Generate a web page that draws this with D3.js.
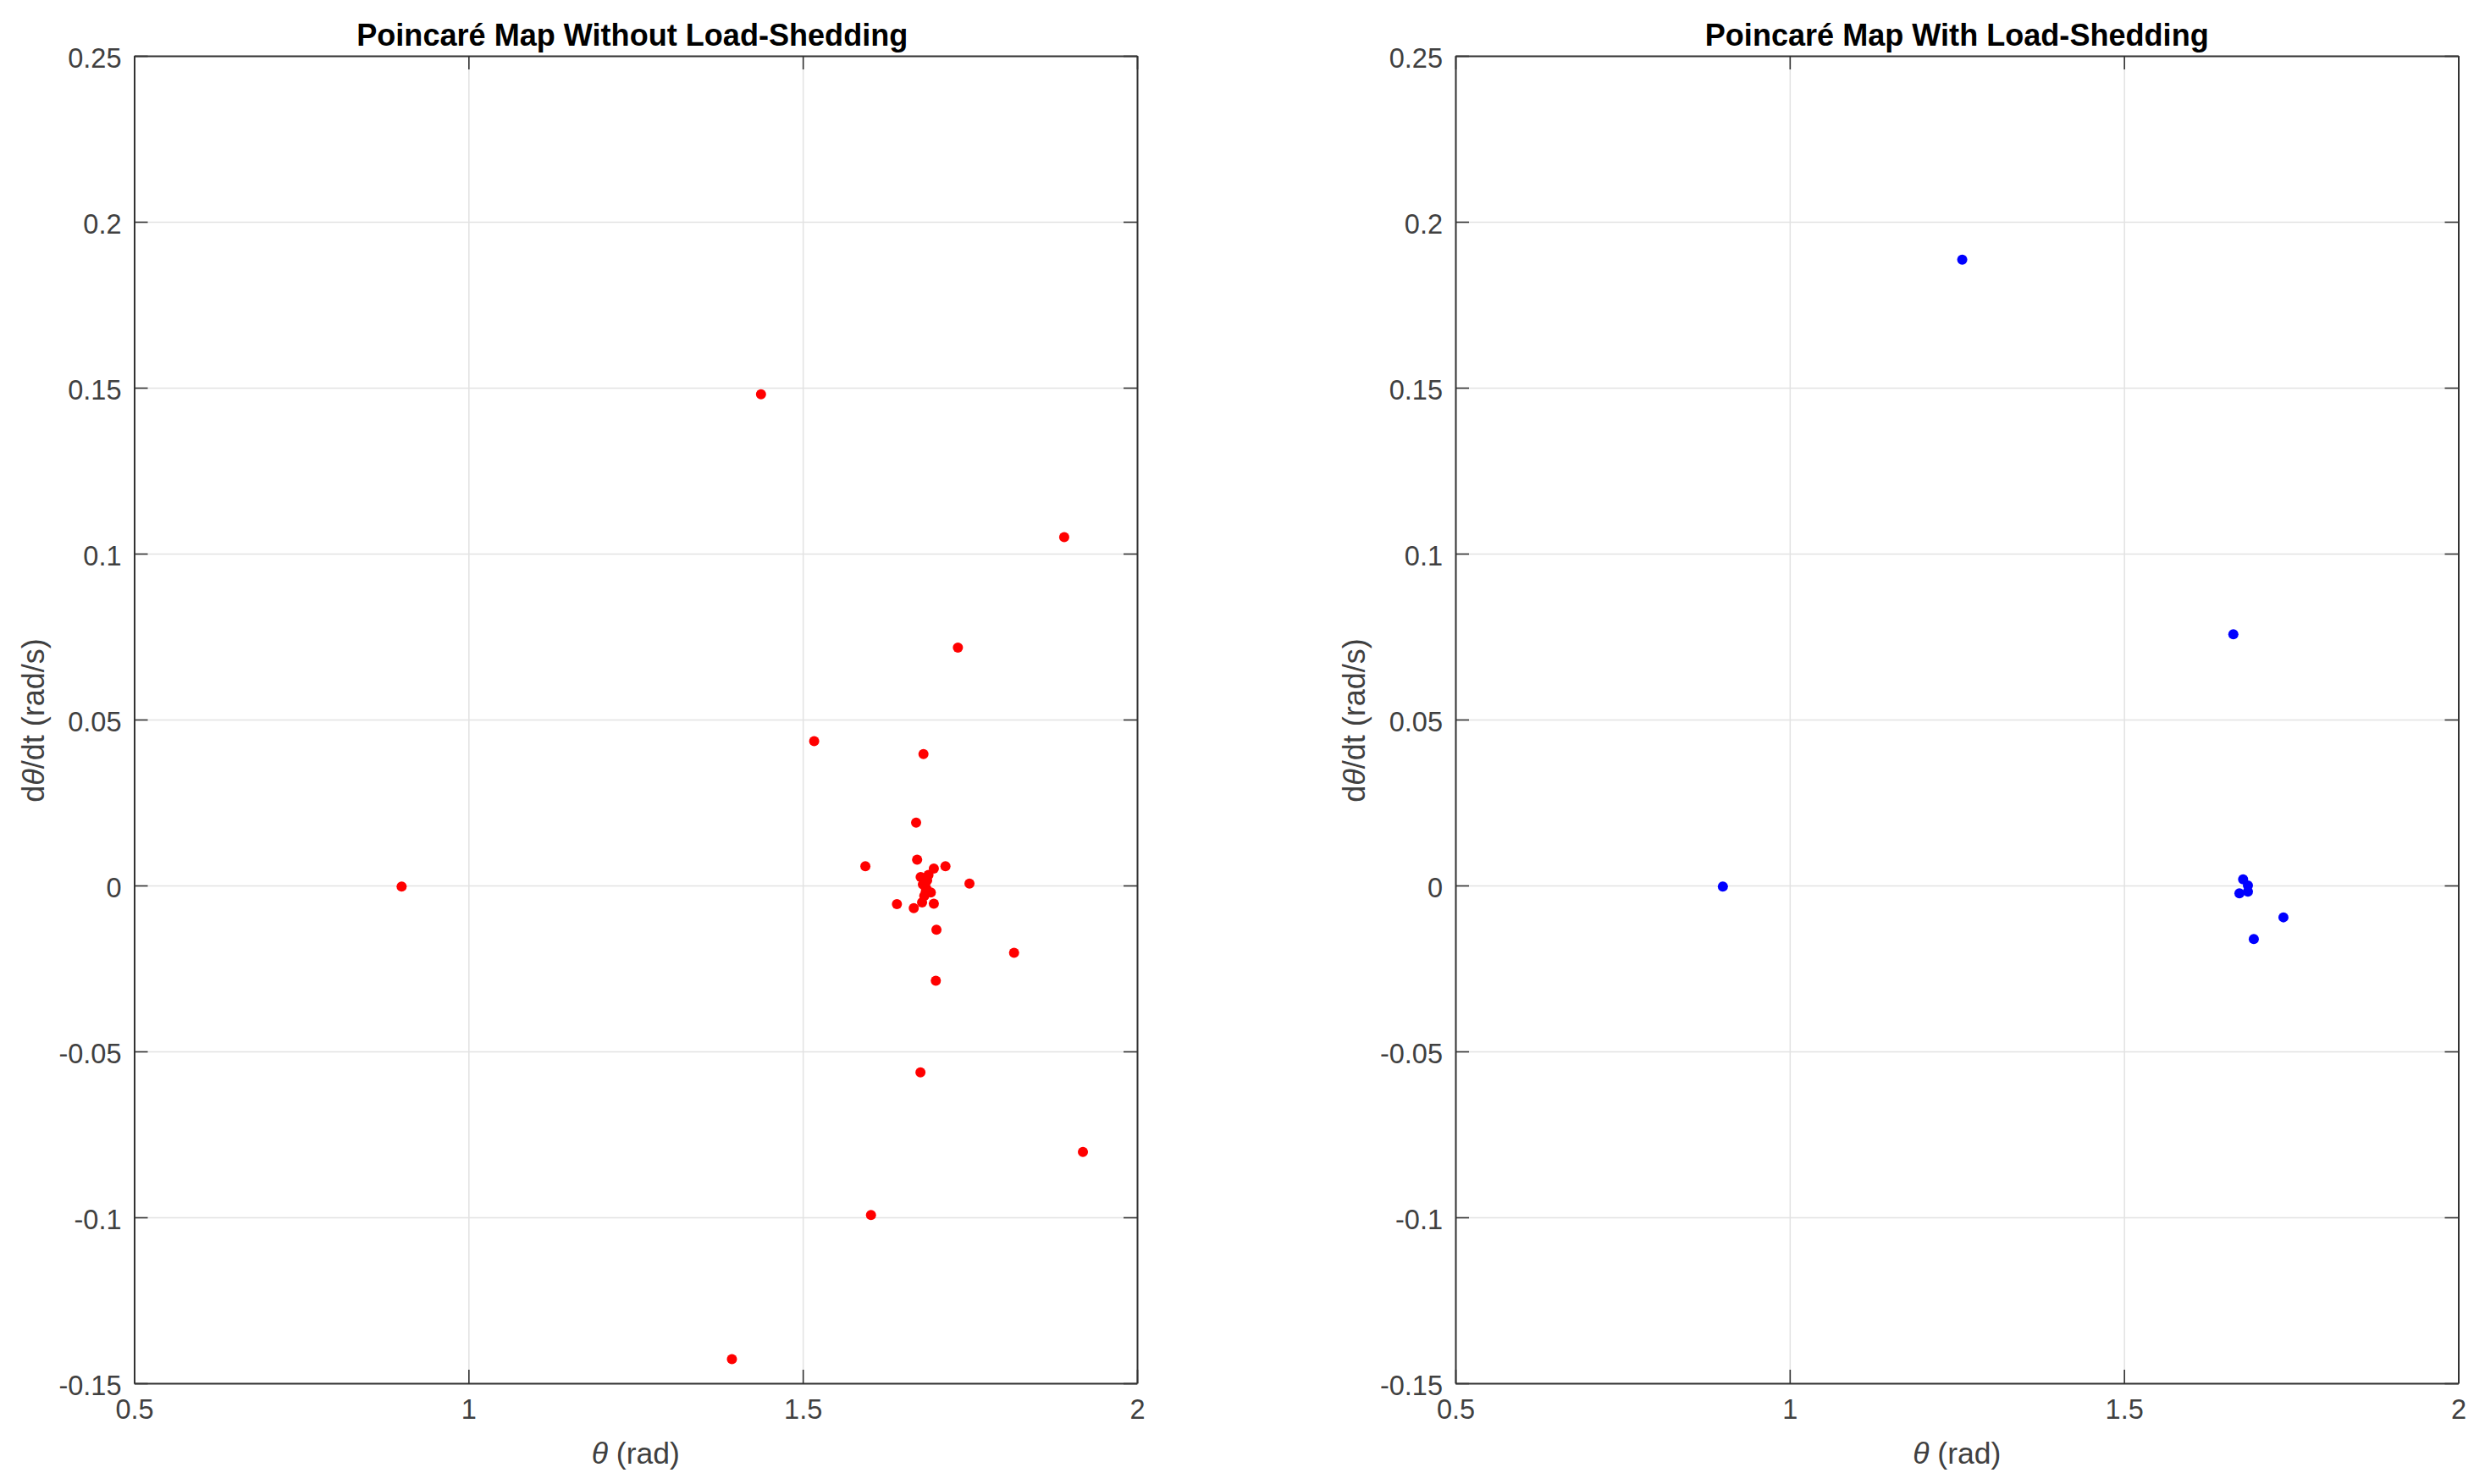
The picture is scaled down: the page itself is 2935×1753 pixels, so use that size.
<!DOCTYPE html>
<html><head><meta charset="utf-8">
<script src="https://d3js.org/d3.v7.min.js"></script>
<style>html,body{margin:0;padding:0;background:#fff}svg{display:block}text{font-family:"Liberation Sans",Arial,sans-serif}</style>
</head><body><svg id="c" width="2935" height="1753"></svg>
<script>
const xTicks=[0.5,1,1.5,2];
const yTicks=[-0.15,-0.1,-0.05,0,0.05,0.1,0.15,0.2,0.25];
const titles=["Poincaré Map Without Load-Shedding","Poincaré Map With Load-Shedding"];
const colors=["#ff0000","#0000ff"];
const thetaNoShed=[0.9,1.4375,1.891,1.732,1.517,1.6805,1.6695,1.671,1.5936,1.7134,1.696,1.7493,1.6408,1.666,1.696,1.6999,1.6784,1.816,1.699,1.676,1.919,1.602,1.394,1.6763,1.688,1.6817,1.6796,1.6839,1.686,1.6915,1.6817,1.6839,1.686];
const rateNoShed=[-0.0003,0.148,0.105,0.0717,0.0435,0.0396,0.01896,0.0078,0.0058,0.0058,0.0051,0.0006,-0.0056,-0.0068,-0.0055,-0.01335,-0.0051,-0.0203,-0.0287,-0.0563,-0.0803,-0.0993,-0.1427,0.00255,0.0032,0.0011,0.0003,-0.0006,-0.0014,-0.0021,-0.0031,-0.0019,0.0015];
const thetaShed=[0.9,1.258,1.6635,1.6781,1.6853,1.6853,1.6726,1.7384,1.6941];
const rateShed=[-0.0003,0.1886,0.0757,0.00187,0,-0.00187,-0.00238,-0.0096,-0.01616];
const panels=[{left:158.5,titleShift:-4,t:thetaNoShed,r:rateNoShed},{left:1719,titleShift:0,t:thetaShed,r:rateShed}];
const plotTop=66,plotBottom=1634,plotWidth=1184.5;
const svg=d3.select("#c");
const ink="#404040";
panels.forEach((p,i)=>{
  const x=d3.scaleLinear().domain([0.5,2]).range([p.left,p.left+plotWidth]);
  const y=d3.scaleLinear().domain([-0.15,0.25]).range([plotBottom,plotTop]);
  const g=svg.append("g");
  // grid
  g.append("g").attr("transform",`translate(0,${plotBottom})`)
    .call(d3.axisBottom(x).tickValues(xTicks).tickSize(-(plotBottom-plotTop)).tickFormat(""))
    .call(s=>{s.select(".domain").remove();s.selectAll("line").attr("stroke","#e2e2e2").attr("stroke-width",1.5)});
  g.append("g").attr("transform",`translate(${p.left},0)`)
    .call(d3.axisLeft(y).tickValues(yTicks).tickSize(-plotWidth).tickFormat(""))
    .call(s=>{s.select(".domain").remove();s.selectAll("line").attr("stroke","#e2e2e2").attr("stroke-width",1.5)});
  // points
  g.append("g").selectAll("circle").data(p.t.map((d,j)=>[d,p.r[j]])).join("circle")
    .attr("cx",d=>x(d[0])).attr("cy",d=>y(d[1])).attr("r",6).attr("fill",colors[i]);
  // axes: all four sides carry inward ticks
  const style=s=>{s.select(".domain").attr("stroke","#333").attr("stroke-width",2);s.selectAll("line").attr("stroke","#333").attr("stroke-width",1.6);s.selectAll("text").attr("fill",ink).attr("font-size",32.5);};
  const fmt=d=>d3.format("~g")(d).replace("−","-");
  g.append("g").attr("transform",`translate(0,${plotBottom})`)
    .call(d3.axisBottom(x).tickValues(xTicks).tickSizeInner(-16).tickSizeOuter(0).tickPadding(19).tickFormat(fmt)).call(style)
    .call(s=>s.selectAll("text").attr("dy","0.71em"));
  g.append("g").attr("transform",`translate(0,${plotTop})`)
    .call(d3.axisTop(x).tickValues(xTicks).tickSizeInner(-16).tickSizeOuter(0).tickFormat("")).call(style);
  g.append("g").attr("transform",`translate(${p.left},0)`)
    .call(d3.axisLeft(y).tickValues(yTicks).tickSizeInner(-16).tickSizeOuter(0).tickPadding(15).tickFormat(fmt)).call(style)
    .call(s=>s.selectAll("text").attr("dy","0.42em"));
  g.append("g").attr("transform",`translate(${p.left+plotWidth},0)`)
    .call(d3.axisRight(y).tickValues(yTicks).tickSizeInner(-16).tickSizeOuter(0).tickFormat("")).call(style);
  // title and labels
  const cx=p.left+plotWidth/2;
  g.append("text").attr("x",cx+p.titleShift).attr("y",54).attr("text-anchor","middle").attr("font-size",36.1).attr("font-weight","bold").attr("fill","#000").text(titles[i]);
  const xl=g.append("text").attr("x",cx).attr("y",1729).attr("text-anchor","middle").attr("font-size",35.5).attr("fill",ink);
  xl.append("tspan").attr("font-style","italic").text("θ");
  xl.append("tspan").text(" (rad)");
  const yl=g.append("text").attr("transform",`translate(${p.left-107},851) rotate(-90)`).attr("text-anchor","middle").attr("font-size",36).attr("fill",ink);
  yl.append("tspan").text("d");
  yl.append("tspan").attr("font-style","italic").text("θ");
  yl.append("tspan").text("/dt (rad/s)");
});
</script></body></html>
